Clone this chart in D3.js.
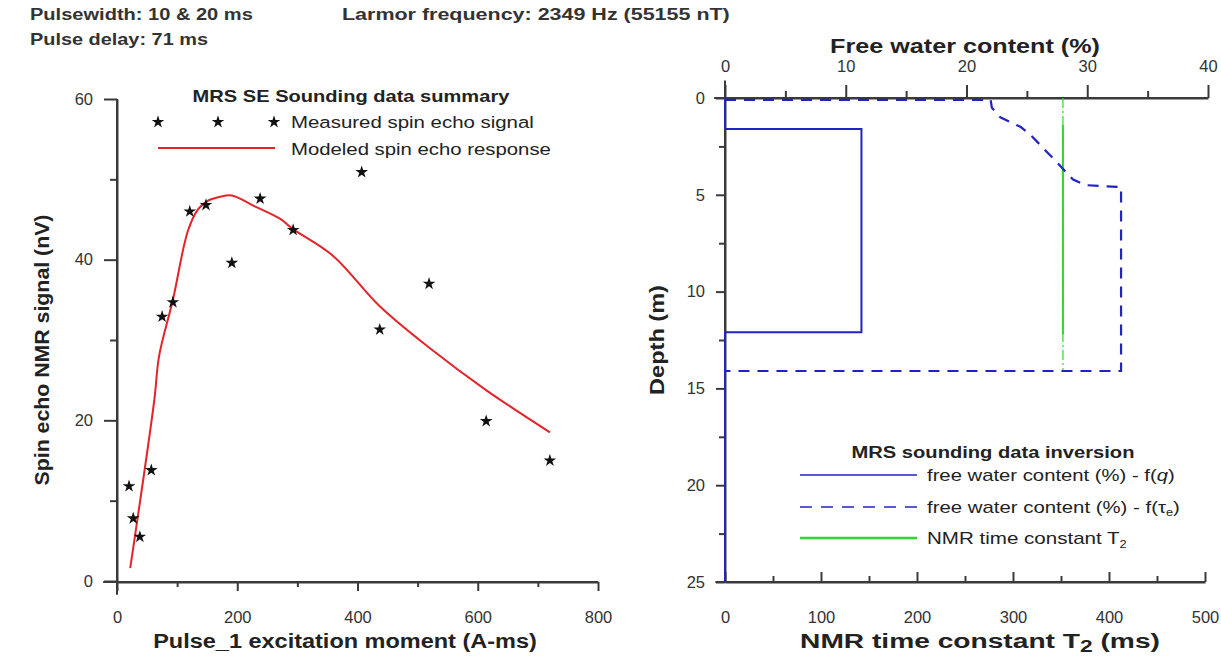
<!DOCTYPE html>
<html><head><meta charset="utf-8">
<script src="https://cdn.jsdelivr.net/npm/d3@7"></script>
<style>
body{margin:0;background:#fff;}
svg{font-family:"Liberation Sans",Arial,sans-serif;}
</style></head><body>
<svg id="c" width="1221" height="656"></svg>
<script>
// ---------- Data ----------
const headerLines = ["Pulsewidth: 10 & 20 ms", "Pulse delay: 71 ms"];
const headerRight = "Larmor frequency: 2349 Hz (55155 nT)";

const measuredX = [20, 27, 38, 57, 75, 93, 121, 148, 191, 238, 293, 407, 437, 519, 614, 720];
const measuredY = [11.8, 7.8, 5.5, 13.8, 32.9, 34.7, 46, 46.8, 39.6, 47.6, 43.7, 50.9, 31.3, 37, 19.9, 15];

const modelX = [22, 62, 70, 93, 118, 135, 150, 170, 191, 230, 271, 293, 359, 437, 520, 615, 720];
const modelY = [1.6, 22.5, 28, 35, 43.6, 46.3, 47.3, 47.8, 48, 46.6, 45.1, 43.8, 40.5, 34.2, 29, 23.7, 18.5];

const leftXTicks = [0, 200, 400, 600, 800];
const leftYTicks = [0, 20, 40, 60];

// free water content f(q): [% , depth m]
const fqWater = [0, 0, 11.3, 11.3, 0, 0];
const fqDepth = [0, 1.6, 1.6, 12.1, 12.1, 25];
// free water content f(tau_e)
const fteWater = [0, 22, 22.1, 22.8, 24.5, 25.3, 27.6, 28.8, 29.8, 32.8, 32.8, 0];
const fteDepth = [0.1, 0.1, 0.5, 1.0, 1.5, 1.9, 3.4, 4.2, 4.5, 4.6, 14.1, 14.1];
// T2 (ms)
const t2Value = 352;
const t2SolidDepth = [1.4, 12.2];
const t2FullDepth = [0, 14.1];

const waterTicks = [0, 10, 20, 30, 40];
const depthTicks = [0, 5, 10, 15, 20, 25];
const t2Ticks = [0, 100, 200, 300, 400, 500];

// ---------- Setup ----------
const svg = d3.select("#c");
const TXT = "#222";
const AX = "#3a3a3a";
const BLUE = "#2323c4";
const RED = "#e5232a";
const GREEN = "#2fd62f";

const xL = d3.scaleLinear([0, 800], [117, 598]);
const yL = d3.scaleLinear([0, 60], [581, 99]);
const xW = d3.scaleLinear([0, 40], [725, 1208]);
const xT = d3.scaleLinear([0, 500], [725, 1205]);
const yD = d3.scaleLinear([0, 25], [98, 582]);

// stretch a text horizontally (about its anchor x) to a target width
function fit(sel, target) {
  const node = sel.node();
  const w = node.getComputedTextLength();
  const sx = target / w;
  const x = +sel.attr("x") || 0;
  const prev = sel.attr("transform") || "";
  sel.attr("transform", `${prev} translate(${x},0) scale(${sx},1) translate(${-x},0)`);
  return sel;
}

// header
headerLines.forEach((t, i) => {
  const s = svg.append("text").attr("x", 30).attr("y", 20 + i * 25)
    .attr("font-size", 17).attr("font-weight", "bold").attr("fill", "#333").text(t);
  fit(s, i === 0 ? 223 : 178);
});
fit(svg.append("text").attr("x", 342).attr("y", 20)
  .attr("font-size", 17).attr("font-weight", "bold").attr("fill", "#333").text(headerRight), 388);

function styleAxis(g) {
  g.selectAll("path.domain").attr("stroke", AX).attr("stroke-width", 2);
  g.selectAll("line").attr("stroke", AX).attr("stroke-width", 2);
  g.selectAll("text").attr("fill", "#333").attr("font-size", 16.5).attr("font-family", "Liberation Sans, Arial");
}

// ---------- Left chart ----------
const gL = svg.append("g");
gL.append("g").attr("transform", "translate(117,0)")
  .call(d3.axisLeft(yL).tickValues([10, 30, 50]).tickSize(7).tickFormat(""))
  .call(g => g.select(".domain").remove()).call(styleAxis);
gL.append("g").attr("transform", "translate(0,582)")
  .call(d3.axisBottom(xL).tickValues([100, 300, 500, 700]).tickSize(5).tickFormat(""))
  .call(g => g.select(".domain").remove()).call(styleAxis);
gL.append("g").attr("transform", "translate(117,0)")
  .call(d3.axisLeft(yL).tickValues(leftYTicks).tickSize(13).tickSizeOuter(0).tickPadding(11))
  .call(styleAxis);
gL.append("g").attr("transform", "translate(0,582)")
  .call(d3.axisBottom(xL).tickValues(leftXTicks).tickSize(9).tickSizeOuter(0).tickPadding(20))
  .call(styleAxis);
gL.append("line").attr("x1", xL(-23)).attr("x2", xL(800)).attr("y1", 582).attr("y2", 582)
  .attr("stroke", AX).attr("stroke-width", 2);
gL.append("line").attr("x1", 117).attr("x2", 117).attr("y1", yL(60)).attr("y2", yL(-1.7))
  .attr("stroke", AX).attr("stroke-width", 2);

// model line
const modelData = modelX.map((x, i) => [x, modelY[i]]);
gL.append("path").datum(modelData)
  .attr("d", d3.line().x(d => xL(d[0])).y(d => yL(d[1])).curve(d3.curveCatmullRom.alpha(0.5)))
  .attr("fill", "none").attr("stroke", RED).attr("stroke-width", 2).attr("stroke-linejoin", "round");

// stars
const star = d3.symbol().type(d3.symbolStar).size(50);
const measData = measuredX.map((x, i) => [x, measuredY[i]]);
gL.selectAll("path.star").data(measData).join("path").attr("class", "star")
  .attr("d", star).attr("transform", d => `translate(${xL(d[0])},${yL(d[1])})`)
  .attr("fill", "#111");

// left legend
fit(gL.append("text").attr("x", 351).attr("y", 102).attr("text-anchor", "middle")
  .attr("font-size", 17).attr("font-weight", "bold").attr("fill", TXT).text("MRS SE Sounding data summary"), 317);
gL.selectAll("path.lstar").data([158, 218, 274]).join("path").attr("class", "lstar")
  .attr("d", star).attr("transform", d => `translate(${d},122)`).attr("fill", "#111");
fit(gL.append("text").attr("x", 291).attr("y", 128).attr("font-size", 17).attr("fill", TXT).text("Measured spin echo signal"), 243);
gL.append("line").attr("x1", 158).attr("x2", 275).attr("y1", 148).attr("y2", 148).attr("stroke", RED).attr("stroke-width", 2);
fit(gL.append("text").attr("x", 291).attr("y", 155).attr("font-size", 17).attr("fill", TXT).text("Modeled spin echo response"), 260);

// axis titles
fit(gL.append("text").attr("x", 345).attr("y", 648).attr("text-anchor", "middle")
  .attr("font-size", 21).attr("font-weight", "bold").attr("fill", TXT).text("Pulse_1 excitation moment (A-ms)"), 384);
const ylab = gL.append("text").attr("transform", "translate(49,350) rotate(-90)").attr("text-anchor", "middle")
  .attr("font-size", 21).attr("font-weight", "bold").attr("fill", TXT).text("Spin echo NMR signal (nV)");
fit(ylab, 271);

// ---------- Right chart ----------
const gR = svg.append("g");
gR.append("g").attr("transform", "translate(725,0)")
  .call(d3.axisLeft(yD).tickValues([2.5, 7.5, 12.5, 17.5, 22.5]).tickSize(6).tickFormat(""))
  .call(g => g.select(".domain").remove()).call(styleAxis);
gR.append("g").attr("transform", "translate(725,0)")
  .call(d3.axisLeft(yD).tickValues(depthTicks).tickSize(9).tickSizeOuter(0).tickPadding(11))
  .call(styleAxis);
gR.append("g").attr("transform", "translate(0,98)")
  .call(d3.axisTop(xW).tickValues([5, 15, 25, 35]).tickSize(7).tickFormat(""))
  .call(g => g.select(".domain").remove()).call(styleAxis);
gR.append("g").attr("transform", "translate(0,98)")
  .call(d3.axisTop(xW).tickValues(waterTicks).tickSize(13).tickSizeOuter(0).tickPadding(13))
  .call(styleAxis);
gR.append("g").attr("transform", "translate(0,582)")
  .call(d3.axisBottom(xT).tickValues([50, 150, 250, 350, 450]).tickSize(-6).tickFormat(""))
  .call(g => g.select(".domain").remove()).call(styleAxis);
gR.append("g").attr("transform", "translate(0,582)")
  .call(d3.axisBottom(xT).tickValues(t2Ticks).tickSize(-10).tickSizeOuter(0).tickPadding(29))
  .call(styleAxis);
gR.append("line").attr("x1", xW(-0.9)).attr("x2", xW(40)).attr("y1", 98).attr("y2", 98).attr("stroke", AX).attr("stroke-width", 2);
gR.append("line").attr("x1", 725).attr("x2", 725).attr("y1", yD(-0.9)).attr("y2", yD(25)).attr("stroke", AX).attr("stroke-width", 2);
gR.append("line").attr("x1", xT(-10)).attr("x2", xT(500)).attr("y1", 582).attr("y2", 582).attr("stroke", AX).attr("stroke-width", 2);

// T2 green
gR.append("path").datum(t2FullDepth)
  .attr("d", d3.line().x(() => xT(t2Value)).y(d => yD(d)))
  .attr("stroke", GREEN).attr("stroke-width", 1.5).attr("stroke-dasharray", "10,3,2,3").attr("fill", "none").attr("opacity", 0.8);
gR.append("path").datum(t2SolidDepth)
  .attr("d", d3.line().x(() => xT(t2Value)).y(d => yD(d)))
  .attr("stroke", GREEN).attr("stroke-width", 2).attr("fill", "none");

// f(q) solid
const fq = fqWater.map((w, i) => [w, fqDepth[i]]);
gR.append("path").datum(fq)
  .attr("d", d3.line().x(d => xW(d[0])).y(d => yD(d[1])))
  .attr("fill", "none").attr("stroke", BLUE).attr("stroke-width", 2);
// f(tau_e) dashed
const fte = fteWater.map((w, i) => [w, fteDepth[i]]);
gR.append("path").datum(fte)
  .attr("d", d3.line().x(d => xW(d[0])).y(d => yD(d[1])))
  .attr("fill", "none").attr("stroke", BLUE).attr("stroke-width", 2.2).attr("stroke-dasharray", "11,8");

// right legend
fit(gR.append("text").attr("x", 993).attr("y", 458).attr("text-anchor", "middle")
  .attr("font-size", 17).attr("font-weight", "bold").attr("fill", TXT).text("MRS sounding data inversion"), 283);
gR.append("line").attr("x1", 800).attr("x2", 917).attr("y1", 475).attr("y2", 475).attr("stroke", BLUE).attr("stroke-width", 1.5);
gR.append("line").attr("x1", 800).attr("x2", 917).attr("y1", 507).attr("y2", 507).attr("stroke", BLUE).attr("stroke-width", 1.5).attr("stroke-dasharray", "12,9");
gR.append("line").attr("x1", 800).attr("x2", 917).attr("y1", 538).attr("y2", 538).attr("stroke", GREEN).attr("stroke-width", 2.5);
const t1 = gR.append("text").attr("x", 927).attr("y", 481).attr("font-size", 16).attr("fill", TXT);
t1.append("tspan").text("free water content (%) - f(");
t1.append("tspan").attr("font-style", "italic").text("q");
t1.append("tspan").text(")");
fit(t1, 248);
const t2 = gR.append("text").attr("x", 927).attr("y", 513).attr("font-size", 16).attr("fill", TXT);
t2.append("tspan").text("free water content  (%) - f(τ");
t2.append("tspan").attr("font-size", 10).attr("dy", 3).text("e");
t2.append("tspan").attr("dy", -3).text(")");
fit(t2, 253);
const t3 = gR.append("text").attr("x", 927).attr("y", 544).attr("font-size", 16).attr("fill", TXT);
t3.append("tspan").text("NMR time constant T");
t3.append("tspan").attr("font-size", 10).attr("dy", 4).text("2");
fit(t3, 200);

// titles
fit(gR.append("text").attr("x", 965).attr("y", 53).attr("text-anchor", "middle")
  .attr("font-size", 20).attr("font-weight", "bold").attr("fill", TXT).text("Free water content (%)"), 270);
fit(gR.append("text").attr("transform", "translate(664,340) rotate(-90)").attr("text-anchor", "middle")
  .attr("font-size", 20).attr("font-weight", "bold").attr("fill", TXT).text("Depth (m)"), 110);
const bt = gR.append("text").attr("x", 980).attr("y", 648).attr("text-anchor", "middle")
  .attr("font-size", 21).attr("font-weight", "bold").attr("fill", TXT);
bt.append("tspan").text("NMR time constant T");
bt.append("tspan").attr("font-size", 17).attr("dy", 4).text("2");
bt.append("tspan").attr("dy", -4).text(" (ms)");
fit(bt, 360);
</script>
</body></html>
